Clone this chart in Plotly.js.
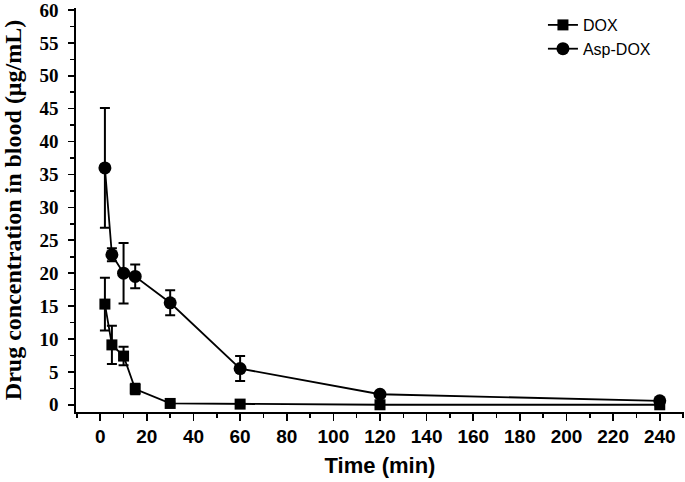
<!DOCTYPE html>
<html>
<head>
<meta charset="utf-8">
<script src="https://cdn.plot.ly/plotly-3.0.1.min.js"></script>
<style>html,body{margin:0;padding:0;background:#fff;}#chart{width:685px;height:482px;}</style>
</head>
<body>
<div id="chart"></div>
<script>
const time = [2, 5, 10, 15, 30, 60, 120, 240];
const doxValues = [15.3, 9.1, 7.4, 2.4, 0.2, 0.1, 0.0, 0.0];
const doxErrors = [4.0, 2.9, 1.4, 0.8, 0.2, 0.2, 0.2, 0.2];
const aspValues = [36.0, 22.8, 20.0, 19.5, 15.5, 5.5, 1.6, 0.6];
const aspErrors = [9.1, 1.0, 4.6, 1.8, 1.9, 1.9, 0.3, 0.3];
const seriesNames = ["DOX", "Asp-DOX"];
const xTickVals = [0, 20, 40, 60, 80, 100, 120, 140, 160, 180, 200, 220, 240];
const yTickVals = [0, 5, 10, 15, 20, 25, 30, 35, 40, 45, 50, 55, 60];

const errStyle = {type: 'data', visible: true, color: '#000', thickness: 2, width: 5};

const traces = [
  {
    x: time, y: doxValues, name: seriesNames[0], type: 'scatter', mode: 'lines+markers',
    line: {color: '#000', width: 1.8},
    marker: {symbol: 'square', size: 11, color: '#000'},
    error_y: Object.assign({array: doxErrors}, errStyle)
  },
  {
    x: time, y: aspValues, name: seriesNames[1], type: 'scatter', mode: 'lines+markers',
    line: {color: '#000', width: 1.8},
    marker: {symbol: 'circle', size: 13, color: '#000'},
    error_y: Object.assign({array: aspErrors}, errStyle)
  }
];

const layout = {
  width: 685, height: 482,
  margin: {l: 76, r: 1, t: 8, b: 70},
  paper_bgcolor: '#fff', plot_bgcolor: '#fff',
  showlegend: true,
  legend: {
    x: 0.768, y: 1.0, xanchor: 'left', yanchor: 'top',
    font: {family: 'Liberation Sans, Arial, sans-serif', size: 16, color: '#000'},
    bgcolor: 'rgba(0,0,0,0)', itemwidth: 30, tracegroupgap: 0
  },
  xaxis: {
    range: [-10.4, 250.4],
    tickmode: 'array', tickvals: xTickVals, ticktext: xTickVals.map(String),
    ticks: 'outside', ticklen: 7, tickwidth: 1.6, tickcolor: '#000',
    minor: {tickmode: 'linear', tick0: 0, dtick: 10, ticks: 'outside', ticklen: 4, tickwidth: 1.6, tickcolor: '#000'},
    showline: true, linecolor: '#000', linewidth: 1.6,
    showgrid: false, zeroline: false, ticklabeloverflow: 'allow',
    tickfont: {family: 'Liberation Sans, Arial, sans-serif', size: 19, color: '#000', weight: 'bold'},
    title: {text: 'Time (min)', font: {family: 'Liberation Sans, Arial, sans-serif', size: 22, color: '#000', weight: 'bold'}, standoff: 11}
  },
  yaxis: {
    range: [-1.1, 60.3],
    tickmode: 'array', tickvals: yTickVals, ticktext: yTickVals.map(String),
    ticks: 'outside', ticklen: 6, tickwidth: 1.6, tickcolor: '#000',
    minor: {tickmode: 'linear', tick0: 0, dtick: 2.5, ticks: 'outside', ticklen: 4, tickwidth: 1.6, tickcolor: '#000'},
    showline: true, linecolor: '#000', linewidth: 1.6,
    showgrid: false, zeroline: false, ticklabeloverflow: 'allow', ticklabelstandoff: 6,
    tickfont: {family: 'Liberation Serif, Times New Roman, serif', size: 19, color: '#000', weight: 'bold'},
    title: {text: 'Drug concentration in blood (μg/mL)', font: {family: 'Liberation Serif, Times New Roman, serif', size: 24, color: '#000', weight: 'bold'}, standoff: 21}
  }
};

Plotly.newPlot('chart', traces, layout, {displayModeBar: false, staticPlot: true});
</script>
</body>
</html>
